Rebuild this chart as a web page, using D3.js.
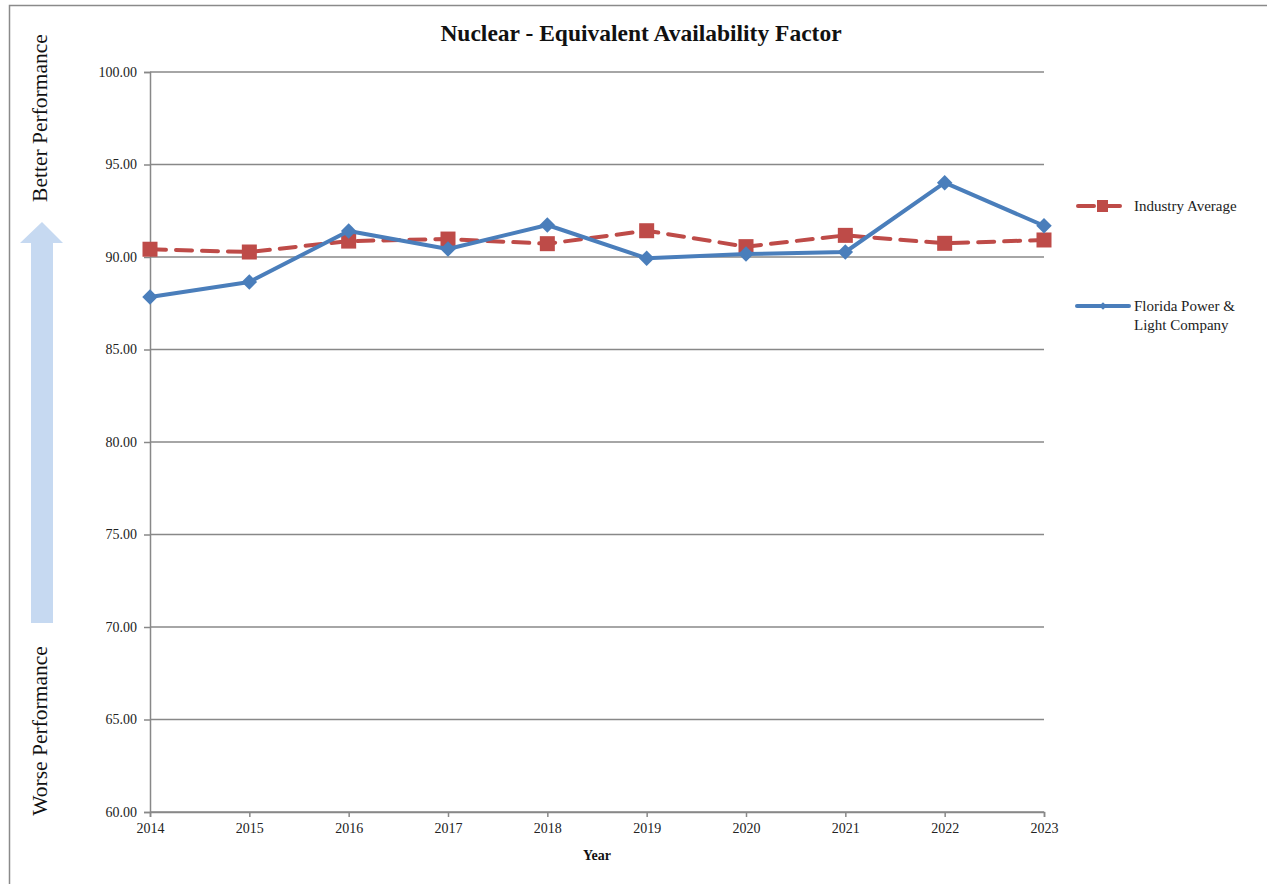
<!DOCTYPE html>
<html><head><meta charset="utf-8">
<script src="https://cdn.jsdelivr.net/npm/d3@7"></script>
<style>body{margin:0;background:#fff}svg{display:block}</style>
</head><body>
<svg id="c" width="1267" height="884"></svg>
<script>
const years = [2014,2015,2016,2017,2018,2019,2020,2021,2022,2023];
const industryAverage = [90.42,90.27,90.86,90.97,90.72,91.42,90.56,91.17,90.74,90.92];
const fpl = [87.84,88.65,91.41,90.43,91.73,89.93,90.16,90.27,94.02,91.69];
const yTicks = [60,65,70,75,80,85,90,95,100];
const seriesNames = ["Industry Average", ["Florida Power &", "Light Company"]];

const svg = d3.select("#c");
const font = "'Liberation Serif','Times New Roman',serif";
const grid = "#888888";
const blue = "#4a7ebb", red = "#be4b48";

// outer frame
svg.append("rect").attr("x",9.5).attr("y",5.5).attr("width",1270).attr("height",900)
  .attr("fill","none").attr("stroke","#8a8a8a").attr("stroke-width",1.5);

const x = d3.scaleLinear().domain([2014,2023]).range([150,1044]);
const y = d3.scaleLinear().domain([60,100]).range([812,72]);

// gridlines
svg.append("g").selectAll("line").data(yTicks).join("line")
  .attr("x1",150).attr("x2",1044).attr("y1",d=>y(d)).attr("y2",d=>y(d))
  .attr("stroke",grid).attr("stroke-width",1.5);

// y axis
const ya = svg.append("g").attr("transform","translate(150,0)")
  .call(d3.axisLeft(y).tickValues(yTicks).tickFormat(d3.format(".2f")).tickSize(6).tickPadding(7));
ya.select(".domain").attr("stroke",grid).attr("stroke-width",1.5);
ya.selectAll(".tick line").attr("stroke",grid).attr("stroke-width",1.5);
ya.selectAll("text").attr("font-family",font).attr("font-size",14).attr("fill","#222");

// x axis
const xa = svg.append("g").attr("transform","translate(0,812)")
  .call(d3.axisBottom(x).tickValues(years).tickFormat(d3.format("d")).tickSize(5).tickPadding(6));
xa.select(".domain").attr("stroke",grid).attr("stroke-width",1.5);
xa.selectAll(".tick line").attr("stroke",grid).attr("stroke-width",1.5);
xa.selectAll("text").attr("font-family",font).attr("font-size",14).attr("fill","#222");

// title
svg.append("text").attr("x",641).attr("y",41).attr("text-anchor","middle")
  .attr("font-family",font).attr("font-weight","bold").attr("font-size",23.5).attr("fill","#111")
  .text("Nuclear - Equivalent Availability Factor");
svg.append("text").attr("x",597).attr("y",860).attr("text-anchor","middle")
  .attr("font-family",font).attr("font-weight","bold").attr("font-size",14).attr("fill","#111")
  .text("Year");

// arrow
svg.append("path").attr("d","M31,623 L31,243 L20,243 L42,222 L63,243 L53,243 L53,623 Z").attr("fill","#c6d9f1");
svg.append("text").attr("transform","translate(47,118) rotate(-90)").attr("text-anchor","middle")
  .attr("font-family",font).attr("font-size",21.5).attr("fill","#111").text("Better Performance");
svg.append("text").attr("transform","translate(47,731) rotate(-90)").attr("text-anchor","middle")
  .attr("font-family",font).attr("font-size",21.5).attr("fill","#111").text("Worse Performance");

const line = d3.line().x((d,i)=>x(years[i])).y(d=>y(d));

// industry average
svg.append("path").datum(industryAverage).attr("d",line).attr("fill","none")
  .attr("stroke",red).attr("stroke-width",4).attr("stroke-dasharray","16,10").attr("stroke-linecap","round");
svg.append("g").selectAll("rect").data(industryAverage).join("rect")
  .attr("x",(d,i)=>x(years[i])-7.5).attr("y",d=>y(d)-7.5).attr("width",15).attr("height",15).attr("fill",red);

// FPL
svg.append("path").datum(fpl).attr("d",line).attr("fill","none")
  .attr("stroke",blue).attr("stroke-width",4).attr("stroke-linejoin","round");
svg.append("g").selectAll("path").data(fpl).join("path")
  .attr("transform",(d,i)=>`translate(${x(years[i])},${y(d)}) rotate(45)`)
  .attr("d",d3.symbol().type(d3.symbolSquare).size(120)).attr("fill",blue);

// legend
const lg = svg.append("g");
lg.append("line").attr("x1",1078).attr("x2",1124).attr("y1",206).attr("y2",206)
  .attr("stroke",red).attr("stroke-width",4).attr("stroke-dasharray","16,10").attr("stroke-linecap","round");
lg.append("rect").attr("x",1097).attr("y",200).attr("width",11).attr("height",12).attr("fill",red);
lg.append("text").attr("x",1134).attr("y",211).attr("font-family",font).attr("font-size",15).attr("fill","#222").text(seriesNames[0]);
lg.append("line").attr("x1",1077).attr("x2",1129).attr("y1",306).attr("y2",306)
  .attr("stroke",blue).attr("stroke-width",4).attr("stroke-linecap","round");
lg.append("path").attr("transform","translate(1103,306) rotate(45)").attr("d",d3.symbol().type(d3.symbolSquare).size(30)).attr("fill",blue);
lg.append("text").attr("x",1134).attr("y",311).attr("font-family",font).attr("font-size",15).attr("fill","#222").text(seriesNames[1][0]);
lg.append("text").attr("x",1134).attr("y",330).attr("font-family",font).attr("font-size",15).attr("fill","#222").text(seriesNames[1][1]);
</script>
</body></html>
